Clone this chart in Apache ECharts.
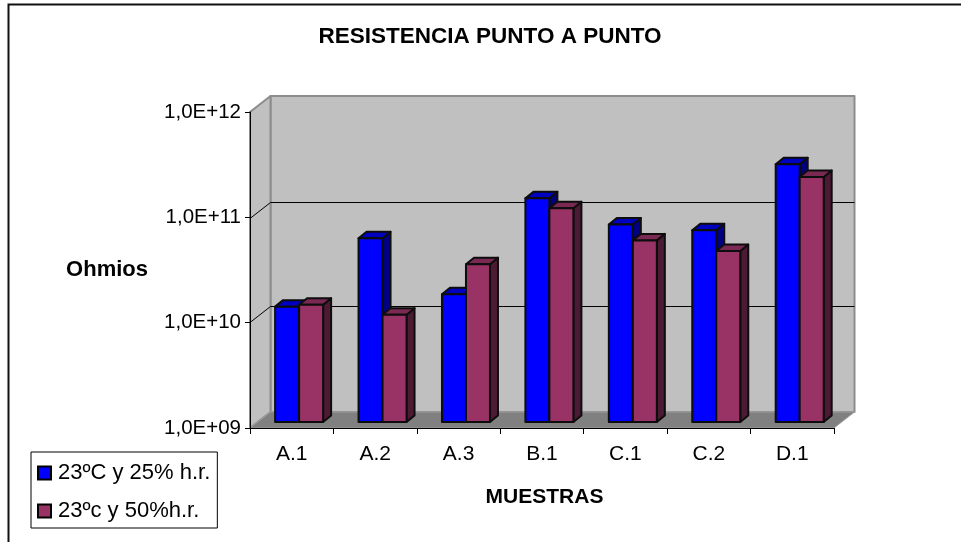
<!DOCTYPE html>
<html>
<head>
<meta charset="utf-8">
<style>
html,body{margin:0;padding:0;background:#fff;}
#chart{width:961px;height:542px;}
</style>
<script src="https://cdn.jsdelivr.net/npm/echarts@6/dist/echarts.min.js"></script>
</head>
<body>
<div id="chart"></div>
<script>
const categories = ['A.1','A.2','A.3','B.1','C.1','C.2','D.1'];
const serie25 = [1.245e10,5.55e10,1.63e10,1.33e11,7.5e10,6.6e10,2.8e11];
const serie50 = [1.30e10,1.045e10,3.15e10,1.07e11,5.3e10,4.2e10,2.12e11];
const gridValues = [1e10,1e11];
const FONT = '"Liberation Sans", Arial, sans-serif';

// profundidad del suelo y de las barras (px)
const WALL_DX = 20.5, WALL_DY = -16;
const BAR_DX = 8, BAR_DY = -6.5;
const BAR_SHIFT_X = 7.4, BAR_SHIFT_Y = -6;
const BAR_W = 24;

const chart = echarts.init(document.getElementById('chart'), null, {renderer:'canvas'});

function poly(points, fill, stroke, lineWidth){
    return {
        type:'polygon',
        shape:{points:points},
        style:{fill:fill, stroke:stroke||null, lineWidth:lineWidth||0, lineJoin:'round'}
    };
}

function renderWalls(params, api){
    const c = params.coordSys;
    const l = c.x, r = c.x + c.width, t = c.y, b = c.y + c.height;
    const mid = (t + b) / 2;
    const children = [
        poly([[l+WALL_DX,t+WALL_DY],[r+WALL_DX,t+WALL_DY],[r+WALL_DX,b+WALL_DY],[l+WALL_DX,b+WALL_DY]],'#c0c0c0','#8c8c8c',2),
        poly([[l,t],[l+WALL_DX,t+WALL_DY],[l+WALL_DX,b+WALL_DY],[l,b]],'#c0c0c0','#8c8c8c',2),
        poly([[l,b],[l+WALL_DX,b+WALL_DY],[r+WALL_DX,b+WALL_DY],[r,b]],'#808080','#a0a0a0',1)
    ];
    gridValues.forEach(v=>{
        // redondeo de pixel como en el original
        const y = Math.round(mid + (api.coord([0,v])[1] - mid) * 0.99) + 0.5;
        children.push({
            type:'polyline',
            shape:{points:[[l,y],[l+WALL_DX,y+WALL_DY],[r+WALL_DX,y+WALL_DY]]},
            style:{fill:null, stroke:'#000', lineWidth:1}
        });
    });
    return {type:'group', children:children};
}

function makeBarRenderer(offset, front, top, side){
    return function(params, api){
        const p = api.coord([api.value(0), api.value(1)]);
        const base = api.coord([api.value(0), 1e9]);
        const x0 = p[0] + BAR_SHIFT_X + offset;
        const x1 = x0 + BAR_W;
        const y0 = p[1] + BAR_SHIFT_Y;
        const y1 = base[1] + BAR_SHIFT_Y;
        const edge = '#0d0d0d';
        return {type:'group', children:[
            poly([[x1,y0],[x1+BAR_DX,y0+BAR_DY],[x1+BAR_DX,y1+BAR_DY],[x1,y1]],side,edge,2),
            poly([[x0,y0],[x0+BAR_DX,y0+BAR_DY],[x1+BAR_DX,y0+BAR_DY],[x1,y0]],top,edge,2),
            poly([[x0,y0],[x1,y0],[x1,y1],[x0,y1]],front,edge,2)
        ]};
    };
}

chart.setOption({
    animation:false,
    backgroundColor:'#fff',
    title:{
        text:'RESISTENCIA PUNTO A PUNTO',
        left:485, top:20, textAlign:'center',
        textStyle:{fontFamily:FONT,fontSize:22.5,fontWeight:'bold',color:'#000'}
    },
    legend:{
        data:[
            {name:'23ºC y 25% h.r.',icon:'rect'},
            {name:'23ºc y 50%h.r.',icon:'rect'}
        ],
        orient:'vertical',
        left:31, top:452,
        padding:[10,7,6,6],
        itemWidth:13, itemHeight:13, itemGap:16,
        borderColor:'#000', borderWidth:1,
        backgroundColor:'#fff',
        textStyle:{fontFamily:FONT,fontSize:22,color:'#000',padding:[0,0,0,2]}
    },
    grid:{left:250,right:127,top:112,bottom:114},
    xAxis:{
        type:'category',
        data:categories,
        name:'MUESTRAS',
        nameLocation:'middle',
        nameGap:59,
        nameTextStyle:{fontFamily:FONT,fontSize:21,fontWeight:'bold',color:'#000',padding:[0,0,0,5]},
        axisLine:{lineStyle:{color:'#000',width:1}},
        axisTick:{show:true,length:6,alignWithLabel:false,lineStyle:{color:'#000'}},
        axisLabel:{fontFamily:FONT,fontSize:21,color:'#000',margin:16},
        splitLine:{show:false}
    },
    yAxis:{
        type:'log',
        logBase:10,
        min:1e9,
        max:1e12,
        name:'Ohmios',
        nameLocation:'middle',
        nameRotate:0,
        nameGap:102,
        nameTextStyle:{fontFamily:FONT,fontSize:22,fontWeight:'bold',color:'#000',padding:[12,0,0,0]},
        axisLine:{show:true,lineStyle:{color:'#000',width:1}},
        axisTick:{show:true,length:5,lineStyle:{color:'#000'}},
        axisLabel:{
            fontFamily:FONT,fontSize:20.5,color:'#000',margin:9,
            formatter:v=>'1,0E+'+String(Math.round(Math.log10(v))).padStart(2,'0')
        },
        splitLine:{show:false},
        minorTick:{show:false}
    },
    series:[
        {
            name:'paredes',
            type:'custom',
            z:-1,
            silent:true,
            clip:false,
            renderItem:renderWalls,
            data:[[0,1e9]]
        },
        {
            name:'23ºC y 25% h.r.',
            type:'custom',
            clip:false,
            renderItem:makeBarRenderer(-BAR_W,'#0000ff','#0000c0','#000080'),
            itemStyle:{color:'#0000ff',borderColor:'#000',borderWidth:2},
            data:serie25.map((v,i)=>[i,v])
        },
        {
            name:'23ºc y 50%h.r.',
            type:'custom',
            clip:false,
            renderItem:makeBarRenderer(0,'#993366','#7a2952','#4d1a33'),
            itemStyle:{color:'#993366',borderColor:'#000',borderWidth:2},
            data:serie50.map((v,i)=>[i,v])
        }
    ],
    graphic:[{
        type:'polyline',
        silent:true,
        shape:{points:[[8.5,542],[8.5,4.5],[961,4.5]]},
        style:{fill:null,stroke:'#111',lineWidth:2}
    }]
});
</script>
</body>
</html>
